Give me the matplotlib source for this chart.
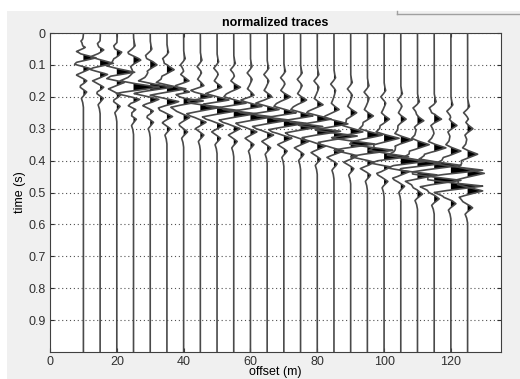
import numpy as np
import matplotlib
matplotlib.use("Agg")
import matplotlib.pyplot as plt
from matplotlib.patches import Rectangle
from matplotlib.lines import Line2D

plt.rcParams['font.family'] = ['Liberation Sans', 'DejaVu Sans']

# ---------------- data ----------------
offsets = [10, 15, 20, 25, 30, 35, 40, 45, 50, 55, 60, 65,
           70, 75, 80, 85, 90, 95, 100, 105, 110, 115, 120, 125]

# weak onset wiggle
t_on = [0.040, 0.045, 0.050, 0.060, 0.070, 0.080, 0.100, 0.105, 0.110, 0.115, 0.125, 0.130,
        0.140, 0.145, 0.150, 0.160, 0.175, 0.185, 0.200, 0.210, 0.235, 0.235, 0.245, 0.250]
a_on = [-0.8, -0.8, -0.8, -1.0, -1.0, -1.0, -1.0, -1.0, -1.0, -1.0, -1.0, -1.0,
        -1.0, -1.0, -1.0, -1.0, -1.0, -1.0, -1.0, -1.0, -1.2, -1.2, -1.2, -1.2]
# weak first-arrival peak
t_pre = [0.045, 0.053, 0.060, 0.085, 0.100, 0.115, 0.150, 0.165, 0.170, 0.170, 0.195, 0.200,
         0.200, 0.210, 0.225, 0.240, 0.250, 0.260, 0.270, 0.270, 0.275, 0.270, 0.290, 0.300]
a_pre = [1.8, 1.6, 1.6, 1.8, 1.8, 2.0, 2.2, 1.8, 1.8, 2.0, 1.8, 1.8,
         2.0, 1.8, 1.8, 1.6, 1.8, 1.8, 1.6, 1.6, 1.8, 2.0, 1.8, 1.6]
# first strong arrival
t_a = [0.078, 0.095, 0.123, 0.170, 0.170, 0.175, 0.185, 0.200, 0.210, 0.220, 0.230, 0.240,
       0.250, 0.260, 0.270, 0.285, 0.310, 0.320, 0.330, 0.335, 0.350, 0.360, 0.370, 0.380]
a_a = [4.5, 4.5, 6.0, 8.0, 7.0, 6.0, 4.0, 5.0, 5.0, 5.0, 5.0, 5.0,
       5.0, 5.0, 5.0, 5.0, 4.5, 4.5, 4.5, 3.5, 3.5, 3.5, 3.0, 3.0]
# second strong arrival
t_b = [0.112, 0.130, 0.155, 0.208, 0.208, 0.215, 0.213, 0.233, 0.243, 0.253, 0.263, 0.273,
       0.283, 0.293, 0.308, 0.323, 0.348, 0.368, 0.388, 0.403, 0.410, 0.415, 0.430, 0.440]
a_b = [3.0, 3.0, 3.5, 3.0, 3.5, 4.0, 7.0, 7.0, 7.5, 7.5, 7.5, 7.5,
       7.5, 7.5, 7.5, 7.5, 8.0, 8.0, 8.0, 8.0, 8.0, 8.0, 9.5, 5.0]
# third arrival
t_c = [0.150, 0.170, 0.195, 0.240, 0.245, 0.262, 0.265, 0.280, 0.290, 0.300, 0.310, 0.320,
       0.330, 0.340, 0.355, 0.370, 0.385, 0.405, 0.420, 0.435, 0.445, 0.462, 0.480, 0.495]
a_c = [1.5, 1.5, 1.5, 1.5, 1.5, 1.8, 1.8, 1.8, 2.0, 2.0, 2.0, 2.0,
       2.5, 2.5, 2.5, 3.0, 3.0, 3.0, 3.5, 4.0, 7.0, 8.0, 9.5, 4.5]
# late weak tail
t_tail = [0.185, 0.205, 0.230, 0.270, 0.280, 0.300, 0.310, 0.320, 0.330, 0.340, 0.350, 0.360,
          0.370, 0.380, 0.395, 0.410, 0.425, 0.445, 0.465, 0.480, 0.505, 0.520, 0.535, 0.548]
a_tail = [1.2, 1.2, 1.2, 1.2, 1.2, 1.2, 1.2, 1.2, 1.2, 1.2, 1.2, 1.2,
          1.2, 1.2, 1.2, 1.2, 1.2, 1.2, 1.2, 1.2, 1.5, 1.5, 1.5, 1.5]

# wavelet shape (relative time, relative amplitude)
wave_dt = [-0.046, -0.031, -0.02, -0.012, 0.0, 0.012, 0.02, 0.031, 0.046]
wave_amp = [0.0, -0.2, -0.5, 0.0, 1.0, 0.0, -0.5, -0.2, 0.0]

y_ticks = [0, 0.1, 0.2, 0.3, 0.4, 0.5, 0.6, 0.7, 0.8, 0.9]
y_ticklabels = ['0', '0.1', '0.2', '0.3', '0.4', '0.5', '0.6', '0.7', '0.8', '0.9']
x_ticks = [0, 20, 40, 60, 80, 100, 120]

# ---------------- figure ----------------
W, H = 520, 379
fig = plt.figure(figsize=(W / 100, H / 100), dpi=100, facecolor='white')
fig.add_artist(Rectangle((7 / W, 0), 1 - 7 / W, 1 - 11 / H, transform=fig.transFigure,
                         facecolor='#f0f0f0', edgecolor='none', zorder=-10))
fig.add_artist(Line2D([397 / W, 1.0], [1 - 14 / H, 1 - 14 / H], transform=fig.transFigure,
                      color='#a0a0a0', lw=1.0))
fig.add_artist(Line2D([397 / W, 397 / W], [1 - 14 / H, 1 - 11 / H], transform=fig.transFigure,
                      color='#a0a0a0', lw=1.0))

ax = fig.add_axes([50 / W, 1 - 352 / H, (501 - 50) / W, (352 - 33) / H])
ax.set_facecolor('white')

t = np.linspace(0, 1, 4001)
wdt = np.array(wave_dt)
wam = np.array(wave_amp)
events = [(t_on, a_on), (t_pre, a_pre), (t_a, a_a), (t_b, a_b), (t_c, a_c), (t_tail, a_tail)]
for i, off in enumerate(offsets):
    amp = np.zeros_like(t)
    for tt, aa in events:
        amp += aa[i] * np.interp(t - tt[i], wdt, wam, left=0, right=0)
    x = off + amp
    ax.fill_betweenx(t, off, x, where=amp > 0, color='black', lw=0, interpolate=True, zorder=3)
    ax.plot(x, t, color='#4a4a4a', lw=1.2, zorder=4)

ax.set_xlim(0, 135)
ax.set_ylim(1, 0)
ax.set_yticks(y_ticks)
ax.set_yticklabels(y_ticklabels)
ax.set_xticks(x_ticks)
ax.tick_params(direction='in', length=3, width=0.8, labelsize=9, colors='#303030',
               top=True, right=True, pad=3)
ax.grid(axis='y', color='#505050', linestyle=(0, (1, 2.5)), lw=0.8, zorder=1)
for s in ax.spines.values():
    s.set_color('#404040')
    s.set_linewidth(0.8)

ax.set_title('normalized traces', fontsize=9, fontweight='bold', pad=5)
ax.set_ylabel('time (s)', fontsize=9, labelpad=2)
fig.text(275 / W, 0.6 / H, 'offset (m)', fontsize=9, ha='center', va='bottom')

fig.savefig('out.png', dpi=100, facecolor=fig.get_facecolor())
